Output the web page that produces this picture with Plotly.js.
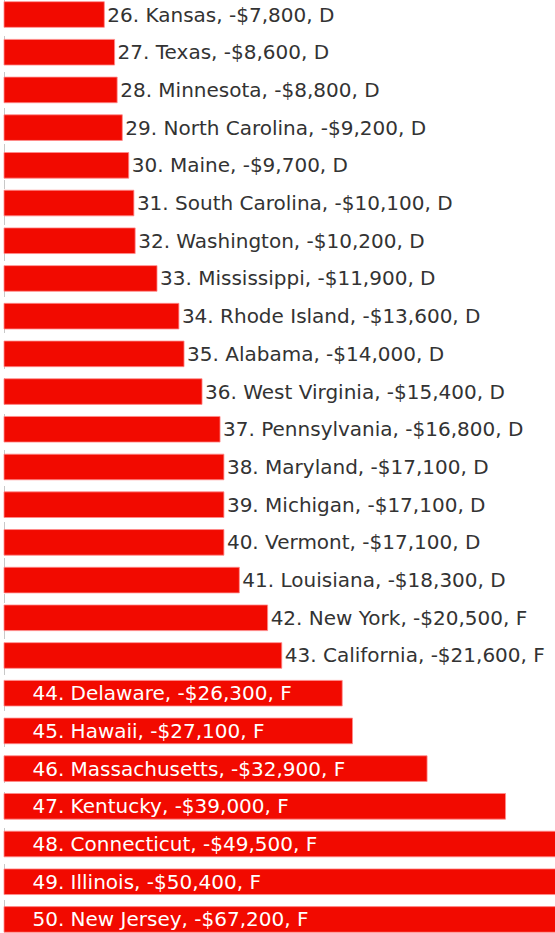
<!DOCTYPE html>
<html>
<head>
<meta charset="utf-8">
<script src="https://cdn.plot.ly/plotly-3.0.1.min.js"></script>
<style>html,body{margin:0;padding:0;background:#fff;}#chart{width:555px;height:933px;}</style>
</head>
<body>
<div id="chart"></div>
<script>
const ranks = [26,27,28,29,30,31,32,33,34,35,36,37,38,39,40,41,42,43,44,45,46,47,48,49,50];
const states = ["Kansas","Texas","Minnesota","North Carolina","Maine","South Carolina","Washington","Mississippi","Rhode Island","Alabama","West Virginia","Pennsylvania","Maryland","Michigan","Vermont","Louisiana","New York","California","Delaware","Hawaii","Massachusetts","Kentucky","Connecticut","Illinois","New Jersey"];
const deficits = [7800,8600,8800,9200,9700,10100,10200,11900,13600,14000,15400,16800,17100,17100,17100,18300,20500,21600,26300,27100,32900,39000,49500,50400,67200];
const grades = ["D","D","D","D","D","D","D","D","D","D","D","D","D","D","D","D","F","F","F","F","F","F","F","F","F"];

const insideFrom = 44;
const pad = "\u00A0\u00A0\u00A0\u00A0";
const labels = ranks.map((r,i) => {
  const base = r + ". " + states[i] + ", -$" + deficits[i].toLocaleString("en-US") + ", " + grades[i];
  return r >= insideFrom ? pad + base : base;
});
const positions = ranks.map(r => r >= insideFrom ? "inside" : "outside");
const textColors = ranks.map(r => r >= insideFrom ? "#ffffff" : "#333333");
const yCats = ranks.map((r,i) => r + ". " + states[i]);

const trace = {
  type: "bar",
  orientation: "h",
  x: deficits,
  y: yCats,
  text: labels,
  textposition: positions,
  insidetextanchor: "start",
  constraintext: "none",
  cliponaxis: true,
  textfont: {family: "'DejaVu Sans', sans-serif", size: 20, color: textColors},
  marker: {color: "rgb(242,10,0)", line: {color: "rgba(255,140,140,0.8)", width: 1}},
  hoverinfo: "none"
};

const layout = {
  width: 555, height: 933,
  margin: {l: 0, r: 0, t: 0, b: 0},
  paper_bgcolor: "#ffffff", plot_bgcolor: "#ffffff",
  showlegend: false,
  bargap: 0.32,
  xaxis: {range: [-311, 42846], tickvals: [0], showticklabels: false, showgrid: true, griddash: "dash", gridcolor: "#c8c8c8", gridwidth: 1, zeroline: false, showline: false, fixedrange: true},
  yaxis: {type: "category", range: [24.36, -0.385], showticklabels: false, showgrid: false, zeroline: false, showline: false, fixedrange: true},
  font: {family: "'DejaVu Sans', sans-serif"}
};

Plotly.newPlot("chart", [trace], layout, {displayModeBar: false, staticPlot: true});
</script>
</body>
</html>
